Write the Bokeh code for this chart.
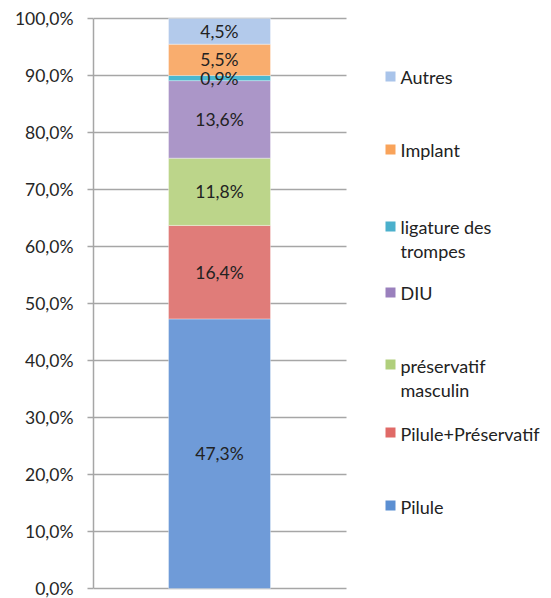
from bokeh.plotting import figure
from bokeh.models import Range1d, FixedTicker
from bokeh.core.properties import value
from bokeh.embed import file_html
from bokeh.resources import INLINE

# ---------------- data ----------------
categories = ["Pilule", "Pilule+Préservatif", "préservatif masculin", "DIU",
              "ligature des trompes", "Implant", "Autres"]
legend_lines = [["Pilule"], ["Pilule+Préservatif"], ["préservatif", "masculin"], ["DIU"],
                ["ligature des", "trompes"], ["Implant"], ["Autres"]]
shares = [47.3, 16.4, 11.8, 13.6, 0.9, 5.5, 4.5]
share_labels = ["47,3%", "16,4%", "11,8%", "13,6%", "0,9%", "5,5%", "4,5%"]
colors = ["#6f9bd8", "#e07c79", "#bcd58a", "#ab96c8", "#4bb8d0", "#f9ad6e", "#b3caeb"]
legend_colors = ["#5b8fd2", "#e06a67", "#b0cf7c", "#9a80bd", "#4bb0cc", "#f9a35a", "#a9c4ea"]
tick_values = [0, 10, 20, 30, 40, 50, 60, 70, 80, 90, 100]
tick_labels = ["0,0%", "10,0%", "20,0%", "30,0%", "40,0%", "50,0%",
               "60,0%", "70,0%", "80,0%", "90,0%", "100,0%"]

# ---------------- layout constants (pixels) ----------------
PX_PER_UNIT = 5.7
BAR_CENTER, BAR_WIDTH = 126, 102
GRID_END = 253
LEG_SQ_X, LEG_TXT_X = 297, 307
LEG_SLOT_PY = [506, 433, 365, 293, 227, 150, 77]   # page y of each legend entry
LINE_GAP = 24
FONT = "Lato"

def page_y_to_data(py):
    return (588 - py) / PX_PER_UNIT

p = figure(width=551, height=598, output_backend="svg", toolbar_location=None,
           x_range=Range1d(0, 458), y_range=Range1d(-0.35, 100.35),
           x_axis_location=None, min_border_left=93, min_border_right=0,
           min_border_top=16, min_border_bottom=8, outline_line_color=None)
p.grid.visible = False

# gridlines (only across the plotting zone)
p.segment(x0=[0] * len(tick_values), x1=[GRID_END] * len(tick_values),
          y0=tick_values, y1=tick_values, line_color="#a6a6a6", line_width=1.5)

# stacked bar
bottoms, tops = [], []
acc = 0.0
for v in shares:
    bottoms.append(acc)
    acc += v
    tops.append(acc)
p.vbar(x=[BAR_CENTER] * len(shares), width=BAR_WIDTH, bottom=bottoms, top=tops,
       fill_color=colors, line_color="white", line_width=0.6, line_alpha=0.6)

mids = [(b + t) / 2 for b, t in zip(bottoms, tops)]
p.text(x=[BAR_CENTER] * len(shares), y=mids, text=share_labels,
       text_align="center", text_baseline="middle", text_font=value(FONT),
       text_font_size="17.5px", text_color="#222222")

# legend (manual, to match the spacing of the original)
sq_y, tx_x, tx_y, tx = [], [], [], []
for lines, py in zip(legend_lines, LEG_SLOT_PY):
    sq_y.append(page_y_to_data(py - 1))
    for k, line in enumerate(lines):
        tx_x.append(LEG_TXT_X)
        tx_y.append(page_y_to_data(py + k * LINE_GAP))
        tx.append(line)
p.scatter(x=[LEG_SQ_X] * len(sq_y), y=sq_y, marker="square", size=10,
          fill_color=legend_colors, line_color=None)
p.text(x=tx_x, y=tx_y, text=tx, text_align="left", text_baseline="middle",
       text_font=value(FONT), text_font_size="18px", text_color="#222222")

# y axis
ax = p.yaxis[0]
ax.ticker = FixedTicker(ticks=tick_values)
ax.major_label_overrides = {t: l for t, l in zip(tick_values, tick_labels)}
ax.bounds = (0, 100)
ax.axis_line_color = "#a6a6a6"
ax.axis_line_width = 1.5
ax.major_tick_line_color = "#a6a6a6"
ax.major_tick_line_width = 1.5
ax.major_tick_out = 6
ax.major_tick_in = 0
ax.minor_tick_line_color = None
ax.major_label_text_font = FONT
ax.major_label_text_font_size = "17.5px"
ax.major_label_text_color = "#262626"
ax.major_label_standoff = 14

open("out.html", "w").write(file_html(p, INLINE))
